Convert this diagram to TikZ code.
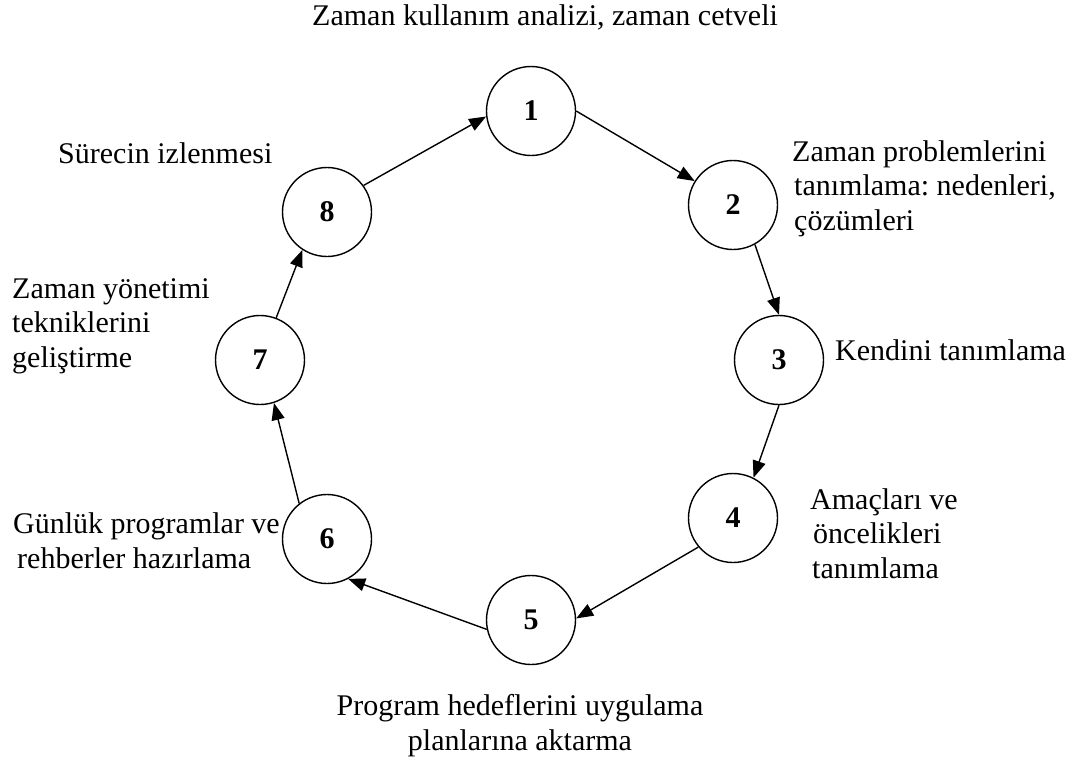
\documentclass[tikz,border=0pt]{standalone}
\usepackage{fontspec}
\setmainfont{Liberation Serif}
\usetikzlibrary{arrows.meta}
\frenchspacing
\begin{document}
\begin{tikzpicture}[x=1pt,y=-1pt,
  stage/.style={circle,draw,line width=1.4pt,minimum size=89pt,inner sep=0pt,
    font=\fontsize{30}{34.5}\selectfont\bfseries},
  caption/.style={inner sep=0pt,font=\fontsize{30}{34.5}\selectfont},
  flow/.style={line width=1.4pt,-{Triangle[length=17pt,width=13pt]}}]
\useasboundingbox (0,0) rectangle (1070,763);

% the eight stages of the cycle
\node[stage] (n1) at (531,111) {\raisebox{-5pt}{1}};
\node[stage] (n2) at (733,205) {\raisebox{-5pt}{2}};
\node[stage] (n3) at (779,360) {\raisebox{-5pt}{3}};
\node[stage] (n4) at (733,518) {\raisebox{-5pt}{4}};
\node[stage] (n5) at (531,620) {\raisebox{-5pt}{5}};
\node[stage] (n6) at (327,539) {\raisebox{-5pt}{6}};
\node[stage] (n7) at (260,360) {\raisebox{-5pt}{7}};
\node[stage] (n8) at (327,212) {\raisebox{-5pt}{8}};

% captions (multi-line ones are placed by the baseline of their last line)
\node[caption,anchor=base] (t1) at (545,25) {Zaman kullanım analizi, zaman cetveli};
\node[caption,anchor=base west,align=left] (t2) at (792,230)
  {Zaman problemlerini\\ \hspace{2pt}tanımlama: nedenleri,\\ \hspace{2pt}çözümleri};
\node[caption,anchor=base west] (t3) at (835,360) {Kendini tanımlama};
\node[caption,anchor=base west,align=left] (t4) at (810,578)
  {Amaçları ve\\ \hspace{3pt}öncelikleri\\ \hspace{2pt}tanımlama};
\node[caption,anchor=base,align=center] (t5) at (520,750)
  {Program hedeflerini uygulama\\ planlarına aktarma};
\node[caption,anchor=base west,align=left] (t6) at (13,568)
  {Günlük programlar ve\\ \hspace{4pt}rehberler hazırlama};
\node[caption,anchor=base west,align=left] (t7) at (12,367)
  {Zaman yönetimi\\ tekniklerini\\ geliştirme};
\node[caption,anchor=base west] (t8) at (58,163) {Sürecin izlenmesi};

% arrows around the cycle
\draw[flow] (n1.0)   -- (n2.148);
\draw[flow] (n2.-61) -- (n3.90);
\draw[flow] (n3.-90) -- (n4.63);
\draw[flow] (n4.220) -- (n5.2);
\draw[flow] (n5.192) -- (n6.-62);
\draw[flow] (n6.128) -- (n7.-72);
\draw[flow] (n7.69)  -- (n8.-123);
\draw[flow] (n8.36)  -- (n1.187);
\end{tikzpicture}
\end{document}
